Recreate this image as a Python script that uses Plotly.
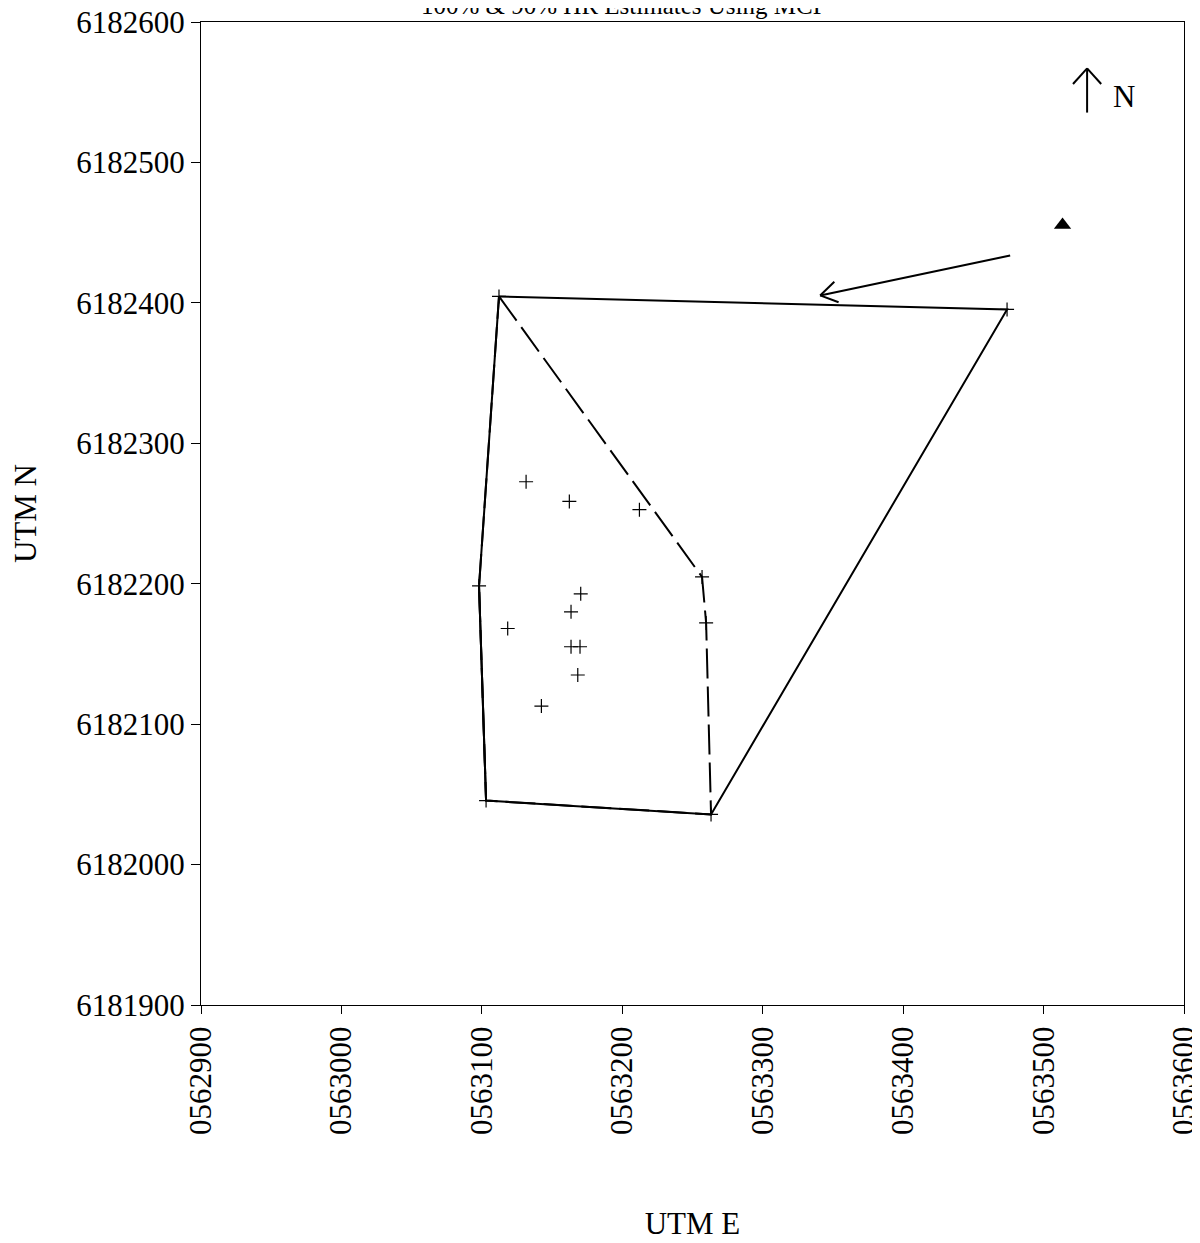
import numpy as np
import plotly.graph_objects as go

# 100% MCP vertices (closed)
mcp100_x = [563112.2, 563474.0, 563263.2, 563103.0, 563098.0, 563112.2]
mcp100_y = [6182404.6, 6182395.3, 6182035.7, 6182045.6, 6182198.4, 6182404.6]

# 90% MCP vertices (closed)
mcp90_x = [563112.2, 563256.8, 563259.7, 563263.2, 563103.0, 563098.0, 563112.2]
mcp90_y = [6182404.6, 6182204.8, 6182172.1, 6182035.7, 6182045.6, 6182198.4, 6182404.6]

# location fixes
fix_x = [563112.2, 563474.0, 563263.2, 563103.0, 563098.0, 563256.8, 563259.7,
         563131.5, 563162.3, 563212.2, 563170.4, 563163.5, 563118.4, 563163.5,
         563169.9, 563168.3, 563142.4]
fix_y = [6182404.6, 6182395.3, 6182035.7, 6182045.6, 6182198.4, 6182204.8, 6182172.1,
         6182272.6, 6182258.6, 6182252.7, 6182192.8, 6182180.0, 6182168.1, 6182155.1,
         6182155.1, 6182135.0, 6182112.9]

# reference location (triangle)
ref_x = [563513.5]
ref_y = [6182455.5]

x_ticks = [562900, 563000, 563100, 563200, 563300, 563400, 563500, 563600]
x_ticklabels = ["0562900", "0563000", "0563100", "0563200", "0563300", "0563400", "0563500", "0563600"]
y_ticks = [6181900, 6182000, 6182100, 6182200, 6182300, 6182400, 6182500, 6182600]

# annotation arrow (from tail to head)
arrow_tail = (563476.2, 6182433.7)
arrow_head = (563340.9, 6182405.3)
north_x = 563531.0
north_y0, north_y1 = 6182535.5, 6182567.0

FONT = "Liberation Serif"
fig = go.Figure()

fig.add_trace(go.Scatter(x=mcp90_x, y=mcp90_y, mode="lines",
                         line=dict(color="black", width=2, dash="30px,8px"),
                         showlegend=False, hoverinfo="skip"))
fig.add_trace(go.Scatter(x=mcp100_x[:5], y=mcp100_y[:5], mode="lines",
                         line=dict(color="black", width=2), showlegend=False, hoverinfo="skip"))
fig.add_trace(go.Scatter(x=[mcp100_x[3], mcp100_x[4], mcp100_x[5]], y=[mcp100_y[3], mcp100_y[4], mcp100_y[5]],
                         mode="lines", line=dict(color="black", width=2), showlegend=False, hoverinfo="skip"))
fig.add_trace(go.Scatter(x=fix_x, y=fix_y, mode="markers",
                         marker=dict(symbol="cross-thin", size=10, line=dict(color="black", width=1.2)),
                         showlegend=False))
fig.add_trace(go.Scatter(x=ref_x, y=ref_y, mode="markers",
                         marker=dict(symbol="triangle-up", size=15, color="black"),
                         showlegend=False))

# arrow with open head
def open_head(tip, tail, length=13.5, ang=30):
    dx, dy = tail[0] - tip[0], tail[1] - tip[1]
    n = np.hypot(dx, dy)
    ux, uy = dx / n, dy / n
    pts = []
    for a in (np.radians(ang), -np.radians(ang)):
        rx = ux * np.cos(a) - uy * np.sin(a)
        ry = ux * np.sin(a) + uy * np.cos(a)
        pts.append((tip[0] + rx * length, tip[1] + ry * length))
    return pts

shapes = []
line_style = dict(color="black", width=2)
shapes.append(dict(type="line", xref="x", yref="y", x0=arrow_tail[0], y0=arrow_tail[1],
                   x1=arrow_head[0], y1=arrow_head[1], line=line_style))
for p in open_head(arrow_head, arrow_tail, length=14, ang=32):
    shapes.append(dict(type="line", xref="x", yref="y", x0=arrow_head[0], y0=arrow_head[1],
                       x1=p[0], y1=p[1], line=line_style))
shapes.append(dict(type="line", xref="x", yref="y", x0=north_x, y0=north_y0, x1=north_x, y1=north_y1,
                   line=dict(color="black", width=2)))
for p in open_head((north_x, north_y1), (north_x, north_y0), length=15, ang=42):
    shapes.append(dict(type="line", xref="x", yref="y", x0=north_x, y0=north_y1,
                       x1=p[0], y1=p[1], line=dict(color="black", width=2)))

fig.update_layout(
    width=1192, height=1235,
    margin=dict(l=193, r=16, t=14, b=238),
    paper_bgcolor="white", plot_bgcolor="white",
    font=dict(family=FONT, size=31, color="black"),
    shapes=shapes,
    annotations=[
        dict(text="N", x=563557, y=6182547, xref="x", yref="y", showarrow=False,
             font=dict(family=FONT, size=31, color="black")),
        dict(text="100% &amp; 90% HR Estimates Using MCP", x=0.43, y=1, xref="paper", yref="paper",
             yanchor="middle", yshift=17, showarrow=False,
             font=dict(family=FONT, size=25, color="black")),
    ],
)
fig.update_xaxes(range=[562900, 563600], tickvals=x_ticks, ticktext=x_ticklabels, tickangle=-90,
                 automargin=False, ticklabeloverflow="allow",
                 showgrid=False, zeroline=False, showline=True, linecolor="black", linewidth=1,
                 mirror=True, ticks="outside", ticklen=8, tickcolor="black",
                 title=dict(text="UTM E", standoff=78, font=dict(family=FONT, size=31)))
fig.update_yaxes(range=[6181900, 6182600], tickvals=y_ticks, tickformat="d",
                 automargin=False, ticklabeloverflow="allow",
                 showgrid=False, zeroline=False, showline=True, linecolor="black", linewidth=1,
                 mirror=True, ticks="outside", ticklen=9, tickcolor="black",
                 title=dict(text="UTM N", standoff=30, font=dict(family=FONT, size=31)))

fig.write_html("out.html")
